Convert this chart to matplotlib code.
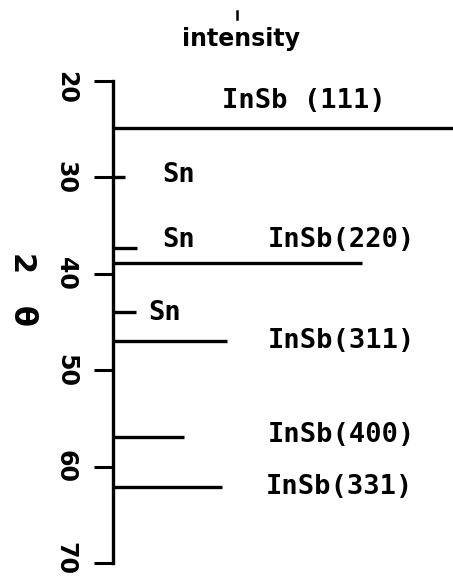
import matplotlib
matplotlib.use("Agg")
import matplotlib.pyplot as plt
import matplotlib.transforms as mtransforms

# --- data ---
peak_labels = ["InSb (111)", "Sn", "Sn", "InSb(220)", "Sn", "InSb(311)", "InSb(400)", "InSb(331)"]
peak_two_theta = [24.9, 30.0, 37.3, 38.9, 44.0, 47.0, 56.9, 62.1]
peak_intensity = [100.0, 3.5, 7.0, 73.2, 6.8, 33.5, 21.0, 32.0]
yticks = [20, 30, 40, 50, 60, 70]
ytick_labels = ["20", "30", "40", "50", "60", "70"]

# label placement (left x in intensity units, y in 2-theta)
label_x = [32.1, 14.4, 14.4, 45.6, 10.3, 45.6, 45.6, 45.0]
label_y = [22.1, 29.75, 36.5, 36.5, 44.1, 47.0, 56.7, 62.1]

W, H = 453, 578
fig = plt.figure(figsize=(W / 100, H / 100), dpi=100)
x0, x1 = 113, 453
y0, y1 = 81, 563
ax = fig.add_axes([x0 / W, 1 - y1 / H, (x1 - x0) / W, (y1 - y0) / H])
ax.set_xlim(0, 100)
ax.set_ylim(70, 20)

for s in ["top", "right", "bottom"]:
    ax.spines[s].set_visible(False)
ax.spines["left"].set_linewidth(2.4)
ax.set_xticks([])
ax.set_yticks(yticks)
ax.set_yticklabels(ytick_labels, rotation=270, va="center", ha="center",
                   fontsize=17, fontweight="bold")
ax.tick_params(axis="y", length=14, width=2.2, pad=20, direction="out")
# small vertical nudges of the first and last tick labels, as in the reference
tl = ax.get_yticklabels()
tl[0].set_transform(tl[0].get_transform() +
                    mtransforms.ScaledTranslation(0, -6 / 100, fig.dpi_scale_trans))
tl[-1].set_transform(tl[-1].get_transform() +
                     mtransforms.ScaledTranslation(0, 4 / 100, fig.dpi_scale_trans))

ax.hlines(peak_two_theta, 0, peak_intensity, colors="black", linewidth=2.4,
          clip_on=False)

fs = 19.5
for lab, lx, ly in zip(peak_labels, label_x, label_y):
    ax.text(lx, ly, lab, ha="left", va="center", fontsize=fs,
            fontfamily="DejaVu Sans Mono", fontweight="bold")

ax.text(37.5, 15.6, "intensity", ha="center", va="center", fontsize=17,
        fontweight="bold", clip_on=False)
# small stroke above the intensity label
ax.plot([36.5, 36.5], [12.7, 13.6], color="black", linewidth=1.8,
        clip_on=False)

fig.text(22 / W, 1 - 289 / H, "2   θ", rotation=270, ha="center", va="center",
         fontsize=22, fontweight="bold")

fig.savefig("out.png", dpi=100)
